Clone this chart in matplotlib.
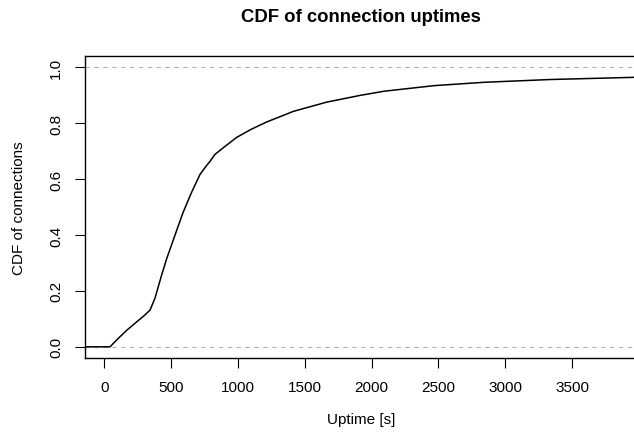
import matplotlib
matplotlib.use("Agg")
import matplotlib.pyplot as plt

plt.rcParams['font.family'] = ['Liberation Sans', 'DejaVu Sans']

# Data (ECDF of connection uptimes)
uptime = [-144, 0, 43, 100, 168, 242, 300, 342, 379, 429, 467, 529, 591, 654,
          716, 760, 791, 828, 891, 991, 1100, 1215, 1415, 1664, 1913, 2093,
          2468, 2843, 3343, 3986]
cdf = [0.0, 0.0, 0.0, 0.028, 0.059, 0.089, 0.112, 0.131, 0.173, 0.256, 0.315,
       0.399, 0.482, 0.553, 0.616, 0.645, 0.663, 0.688, 0.712, 0.749, 0.778,
       0.804, 0.842, 0.875, 0.899, 0.914, 0.934, 0.946, 0.956, 0.964]

xticks = [0, 500, 1000, 1500, 2000, 2500, 3000, 3500]
yticks = [0.0, 0.2, 0.4, 0.6, 0.8, 1.0]

W, H = 634, 435
fig = plt.figure(figsize=(W / 100, H / 100), dpi=100)
left, right, top, bottom = 85, 637, 57, 359
ax = fig.add_axes([left / W, 1 - bottom / H, (right - left) / W, (bottom - top) / H])

ax.axhline(0, color='#b3b3b3', lw=0.8, ls=(0, (4, 4)), zorder=1)
ax.axhline(1, color='#b3b3b3', lw=0.8, ls=(0, (4, 4)), zorder=1)
ax.plot(uptime, cdf, color='black', lw=1.1, zorder=2)

ax.set_xlim(-144, 3986)
ax.set_ylim(-0.04, 1.04)
ax.set_xticks(xticks)
ax.set_xticklabels([str(t) for t in xticks])
ax.set_yticks(yticks)
ax.set_yticklabels([f"{t:.1f}" for t in yticks])

for s in ['top', 'bottom', 'left']:
    ax.spines[s].set_linewidth(1.0)
ax.spines['right'].set_visible(False)

ax.tick_params(axis='both', direction='out', length=7, width=0.8, labelsize=11,
               color='black')
ax.tick_params(axis='x', pad=9)
ax.tick_params(axis='y', pad=11)
for lbl in ax.get_yticklabels():
    lbl.set_rotation(90)
    lbl.set_rotation_mode('anchor')
    lbl.set_ha('center')
    lbl.set_va('baseline')

ax.set_title('CDF of connection uptimes', fontsize=13.3, fontweight='bold', pad=25)
fig.text(361 / W, 1 - 420 / H, 'Uptime [s]', ha='center', va='center', fontsize=11)
fig.text(19 / W, 1 - 208 / H, 'CDF of connections', ha='center', va='center',
         rotation=90, fontsize=11)

fig.savefig('out.png', dpi=100)
